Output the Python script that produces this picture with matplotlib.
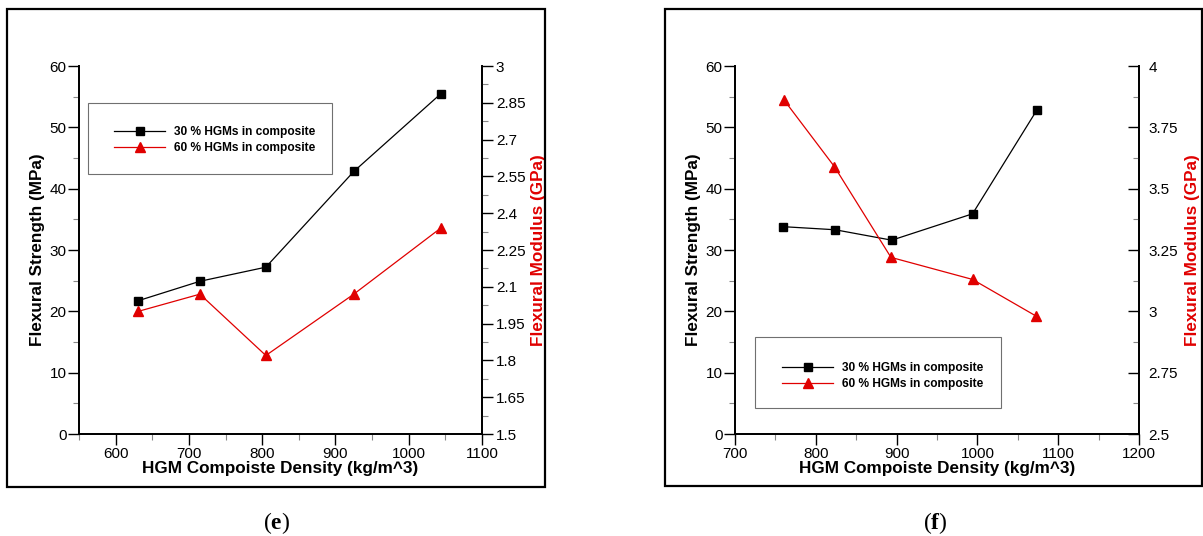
import numpy as np
import matplotlib
matplotlib.use('Agg')
import matplotlib.pyplot as plt
from matplotlib.patches import Rectangle
from matplotlib.ticker import MultipleLocator

plt.rcParams['font.family'] = ['Liberation Sans', 'DejaVu Sans']
plt.rcParams['mathtext.fontset'] = 'custom'
plt.rcParams['mathtext.rm'] = 'Liberation Serif'
plt.rcParams['mathtext.bf'] = 'Liberation Serif:bold'

W, H = 1203, 536
RED = '#e00000'

# panel (e)
density_e30 = [630, 715, 805, 925, 1044]
strength_e30 = [21.7, 24.9, 27.2, 42.8, 55.5]
density_e60 = [631, 715, 805, 925, 1044]
modulus_e60 = [2.00, 2.07, 1.82, 2.07, 2.34]

# panel (f)
density_f30 = [760, 824, 894, 994, 1074]
strength_f30 = [33.8, 33.3, 31.6, 35.9, 52.9]
density_f60 = [761, 823, 893, 994, 1073]
modulus_f60 = [3.86, 3.59, 3.22, 3.13, 2.98]

labels = ['30 % HGMs in composite', '60 % HGMs in composite']


def px_box(x0, y0, x1, y1):
    return [x0 / W, 1 - y1 / H, (x1 - x0) / W, (y1 - y0) / H]


def make_panel(fig, box, xlim, xstep, ylim2, ystep2, d30, s30, d60, m60,
               right_dir, right_pad, right_labelpad, leg_xy):
    ax = fig.add_axes(box)
    ax2 = ax.twinx()
    ax.plot(d30, s30, color='black', lw=0.9, marker='s', ms=6, zorder=3)
    ax2.plot(d60, m60, color=RED, lw=0.9, marker='^', ms=7, zorder=3)
    ax.set_xlim(*xlim)
    ax.set_ylim(0, 60)
    ax2.set_ylim(*ylim2)
    ax.xaxis.set_major_locator(MultipleLocator(xstep))
    ax.xaxis.set_minor_locator(MultipleLocator(xstep / 2))
    ax.yaxis.set_major_locator(MultipleLocator(10))
    ax.yaxis.set_minor_locator(MultipleLocator(5))
    ax2.yaxis.set_major_locator(MultipleLocator(ystep2))
    ax2.yaxis.set_minor_locator(MultipleLocator(ystep2 / 2))
    for a in (ax, ax2):
        a.spines['top'].set_visible(False)
        for s in a.spines.values():
            s.set_linewidth(1.3)
    ax.tick_params(which='major', direction='out', length=8, width=1, labelsize=11, pad=1)
    ax.tick_params(which='minor', direction='out', length=4, width=0.8, color='#888888')
    ax2.tick_params(which='major', direction=right_dir, length=8, width=1, labelsize=11, pad=right_pad)
    ax2.tick_params(which='minor', direction=right_dir, length=4, width=0.8, color='#888888')
    ax2.yaxis.set_major_formatter(plt.FuncFormatter(lambda v, p: f'{v:g}'))
    ax.set_xlabel('HGM Compoiste Density (kg/m^3)', fontsize=12.3, fontweight='bold', labelpad=0)
    ax.set_ylabel('Flexural Strength (MPa)', fontsize=12.3, fontweight='bold', labelpad=3)
    ax2.set_ylabel('Flexural Modulus (GPa)', fontsize=12.3, fontweight='bold', color=RED,
                   labelpad=right_labelpad)
    h1 = ax.get_lines()[0]
    h2 = ax2.get_lines()[0]
    fig.legend([h1, h2], labels, loc='center left',
               bbox_to_anchor=(leg_xy[0] / W, 1 - leg_xy[1] / H),
               frameon=False, borderpad=0, handlelength=4.3, handletextpad=0.75,
               labelspacing=0.35, prop={'size': 8.6, 'weight': 'bold'})
    return ax, ax2


fig = plt.figure(figsize=(W / 100, H / 100), dpi=100)

# outer frames
for x0, y0, x1, y1 in [(7, 9, 545, 487), (665, 9, 1202, 486)]:
    b = px_box(x0, y0, x1, y1)
    fig.add_artist(Rectangle((b[0], b[1]), b[2], b[3], transform=fig.transFigure,
                             fill=False, lw=1.6, ec='black'))

# legend boxes
for x0, y0, x1, y1 in [(88, 103, 332, 174), (755, 337, 1001, 408)]:
    b = px_box(x0, y0, x1, y1)
    fig.add_artist(Rectangle((b[0], b[1]), b[2], b[3], transform=fig.transFigure,
                             fill=False, lw=0.8, ec='#707070', zorder=5))

make_panel(fig, px_box(79, 66, 482, 434), (550, 1100), 100, (1.5, 3.0), 0.15,
           density_e30, strength_e30, density_e60, modulus_e60, 'out', 2, 4, (108, 140))
make_panel(fig, px_box(735, 66, 1139, 434), (700, 1200), 100, (2.5, 4.0), 0.25,
           density_f30, strength_f30, density_f60, modulus_f60, 'in', 7, 5, (776, 376))

fig.text(277 / W, 1 - 523 / H, r'($\mathbf{e}$)', fontsize=17, family='Liberation Serif',
         ha='center', va='center')
fig.text(935 / W, 1 - 523 / H, r'($\mathbf{f}$)', fontsize=17, family='Liberation Serif',
         ha='center', va='center')

fig.savefig('out.png', dpi=100)
